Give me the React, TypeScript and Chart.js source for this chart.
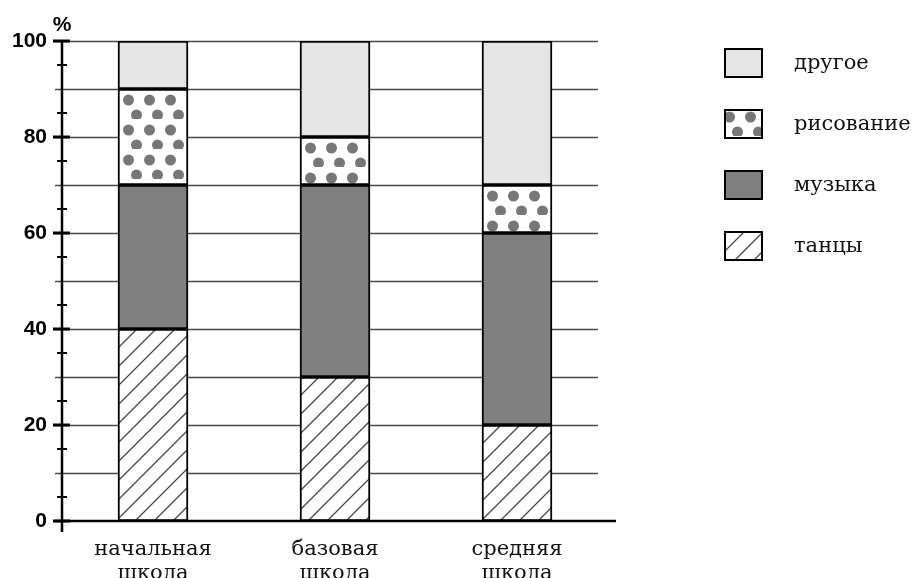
import React, { useEffect, useRef } from "react";
import { Chart, registerables } from "chart.js";

Chart.register(...registerables);

const categories: string[][] = [
  ["начальная", "школа"],
  ["базовая", "школа"],
  ["средняя", "школа"],
];
const danceValues = [40, 30, 20];
const musicValues = [30, 40, 40];
const drawingValues = [20, 10, 10];
const otherValues = [10, 20, 30];
const seriesLabels = ["танцы", "музыка", "рисование", "другое"];
const majorTicks = [0, 20, 40, 60, 80, 100];

const BAR_W = 70;

function makeHatchCanvas(): HTMLCanvasElement {
  const s = 19;
  const c = document.createElement("canvas");
  c.width = s;
  c.height = s;
  const g = c.getContext("2d")!;
  g.fillStyle = "#ffffff";
  g.fillRect(0, 0, s, s);
  g.strokeStyle = "#484848";
  g.lineWidth = 1.3;
  g.beginPath();
  g.moveTo(0, s);
  g.lineTo(s, 0);
  g.moveTo(-2, 2);
  g.lineTo(2, -2);
  g.moveTo(s - 2, s + 2);
  g.lineTo(s + 2, s - 2);
  g.stroke();
  return c;
}

function makeDotsCanvas(): HTMLCanvasElement {
  const w = BAR_W;
  const h = 30;
  const c = document.createElement("canvas");
  c.width = w;
  c.height = h;
  const g = c.getContext("2d")!;
  g.fillStyle = "#ffffff";
  g.fillRect(0, 0, w, h);
  g.fillStyle = "#777777";
  for (let k = 0; k < 3; k++) {
    g.beginPath();
    g.arc(10.5 + 21 * k, 11, 5.5, 0, Math.PI * 2);
    g.fill();
    g.beginPath();
    g.arc(18.5 + 21 * k, 26, 5.5, 0, Math.PI * 2);
    g.fill();
  }
  return c;
}

function patternAt(ctx: CanvasRenderingContext2D, src: HTMLCanvasElement, tx: number, ty: number) {
  const p = ctx.createPattern(src, "repeat");
  if (!p) return "#fff";
  if ((p as any).setTransform && typeof DOMMatrix !== "undefined") {
    p.setTransform(new DOMMatrix().translate(tx, ty));
  }
  return p;
}

const decorPlugin = {
  id: "decor",
  beforeDatasetsDraw(chart: any) {
    const { ctx, chartArea } = chart;
    const y = chart.scales.y;
    ctx.save();
    ctx.strokeStyle = "#484848";
    ctx.lineWidth = 1.3;
    for (let v = 10; v <= 100; v += 10) {
      const py = Math.round(y.getPixelForValue(v)) + 0.5;
      ctx.beginPath();
      ctx.moveTo(chartArea.left - 7, py);
      ctx.lineTo(chartArea.right - 10, py);
      ctx.stroke();
    }
    ctx.restore();
  },
  afterDatasetsDraw(chart: any) {
    const { ctx, chartArea } = chart;
    const y = chart.scales.y;
    const x0 = chartArea.left;
    const yBottom = y.getPixelForValue(0);
    const yTop = y.getPixelForValue(100);
    ctx.save();
    ctx.strokeStyle = "#000";
    ctx.lineCap = "butt";
    ctx.lineWidth = 2.5;
    ctx.beginPath();
    ctx.moveTo(x0, yTop);
    ctx.lineTo(x0, yBottom + 11);
    ctx.stroke();
    ctx.beginPath();
    ctx.moveTo(x0 - 7, yBottom);
    ctx.lineTo(chartArea.right + 8, yBottom);
    ctx.stroke();
    ctx.lineWidth = 2;
    for (let v = 5; v < 100; v += 10) {
      const py = y.getPixelForValue(v);
      ctx.beginPath();
      ctx.moveTo(x0 - 5, py);
      ctx.lineTo(x0 + 5, py);
      ctx.stroke();
    }
    ctx.lineWidth = 3;
    for (const v of majorTicks) {
      const py = y.getPixelForValue(v);
      ctx.beginPath();
      ctx.moveTo(x0 - 9, py);
      ctx.lineTo(x0 + 8, py);
      ctx.stroke();
    }
    ctx.fillStyle = "#000";
    ctx.font = "bold 21px 'Liberation Sans', Arial, sans-serif";
    ctx.textAlign = "center";
    ctx.textBaseline = "alphabetic";
    ctx.fillText("%", x0, yTop - 10);

    // legend
    const ds = chart.data.datasets;
    ctx.font = "21px 'DejaVu Serif', serif";
    ctx.textAlign = "left";
    ctx.textBaseline = "middle";
    for (let k = 0; k < ds.length; k++) {
      const d = ds[ds.length - 1 - k];
      const bx = 725;
      const by = 49 + k * 61;
      let fill: any = d.legendFill;
      if (d.legendPattern) fill = patternAt(ctx, d.legendPattern, bx + d.legendShift[0], by + d.legendShift[1]);
      ctx.fillStyle = fill;
      ctx.fillRect(bx, by, 37, 28);
      ctx.lineWidth = 2;
      ctx.strokeStyle = "#000";
      ctx.strokeRect(bx, by, 37, 28);
      ctx.fillStyle = "#111";
      ctx.fillText(d.label, 794, by + 15);
    }
    ctx.restore();
  },
};

export default function App() {
  const ref = useRef<HTMLCanvasElement | null>(null);
  useEffect(() => {
    if (!ref.current) return;
    const hatchSrc = makeHatchCanvas();
    const dotsSrc = makeDotsCanvas();
    const common = {
      borderColor: "#000",
      borderWidth: 2,
      borderSkipped: false,
      barThickness: BAR_W,
    };
    const barFill = (src: HTMLCanvasElement, below: number[][], own: number[], dx: number, dy: number) =>
      (c: any) => {
        const chart = c.chart;
        const i = c.dataIndex;
        if (i === undefined || !chart.scales || !chart.scales.x || !chart.scales.y) return "#fff";
        const base = below.reduce((s, arr) => s + arr[i], 0);
        const left = chart.scales.x.getPixelForValue(i) - BAR_W / 2;
        const top = chart.scales.y.getPixelForValue(base + own[i]);
        return patternAt(chart.ctx, src, left + dx, top + dy);
      };
    const chart = new Chart(ref.current, {
      type: "bar",
      data: {
        labels: categories as any,
        datasets: [
          {
            label: seriesLabels[0],
            data: danceValues,
            backgroundColor: barFill(hatchSrc, [], danceValues, 0, 0),
            legendPattern: hatchSrc,
            legendShift: [0, 0],
            ...common,
          },
          { label: seriesLabels[1], data: musicValues, backgroundColor: "#808080", legendFill: "#808080", ...common },
          {
            label: seriesLabels[2],
            data: drawingValues,
            backgroundColor: barFill(dotsSrc, [danceValues, musicValues], drawingValues, 0, 0),
            legendPattern: dotsSrc,
            legendShift: [-6, -4],
            ...common,
          },
          { label: seriesLabels[3], data: otherValues, backgroundColor: "#e5e5e5", legendFill: "#e5e5e5", ...common },
        ] as any,
      },
      options: {
        animation: false,
        responsive: false,
        devicePixelRatio: 1,
        layout: { padding: { top: 41, right: 307, left: 0, bottom: 0 } },
        plugins: { legend: { display: false }, tooltip: { enabled: false } },
        scales: {
          x: {
            stacked: true,
            grid: { display: false, drawTicks: false },
            border: { display: false },
            ticks: {
              color: "#111",
              padding: 16,
              font: { family: "'DejaVu Serif', serif", size: 21, lineHeight: 1.15 },
              maxRotation: 0,
              autoSkip: false,
            },
            afterFit(scale: any) {
              scale.height = 57;
            },
          },
          y: {
            stacked: true,
            min: 0,
            max: 100,
            grid: { display: false, drawTicks: false },
            border: { display: false },
            ticks: {
              stepSize: 20,
              color: "#000",
              padding: 15,
              font: { family: "'Liberation Sans', Arial, sans-serif", size: 21, weight: "bold" },
            },
            afterFit(scale: any) {
              scale.width = 62;
            },
          },
        },
      } as any,
      plugins: [decorPlugin],
    });
    return () => chart.destroy();
  }, []);
  return (
    <div style={{ position: "fixed", left: 0, top: 0, width: 915, height: 578, background: "#fff" }}>
      <canvas ref={ref} width={915} height={578} />
    </div>
  );
}
